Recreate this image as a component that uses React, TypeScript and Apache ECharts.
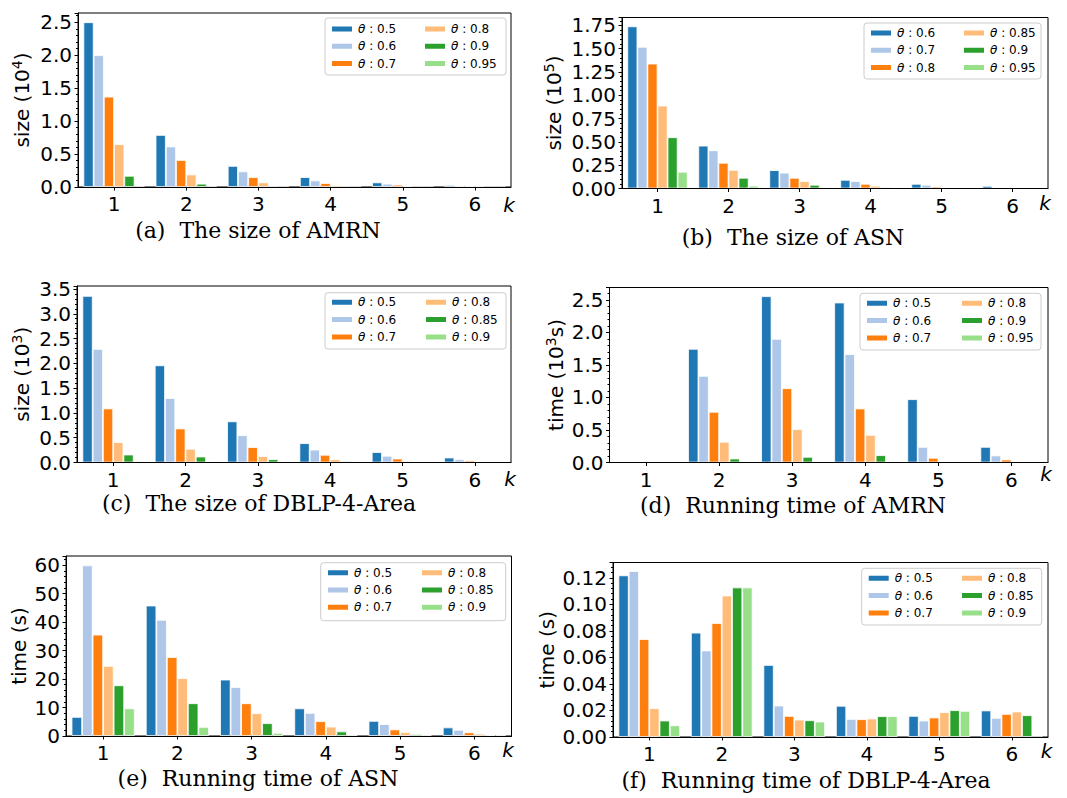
import React, { useEffect, useRef } from 'react';
import * as echarts from 'echarts';

// ---------- data ----------
const categories = ['1', '2', '3', '4', '5', '6'];
const colors = ['#1f77b4', '#aec7e8', '#ff7f0e', '#ffbb78', '#2ca02c', '#98df8a'];

// (a) size of AMRN (10^4)
const thetasA = ['0.5', '0.6', '0.7', '0.8', '0.9', '0.95'];
const sizeAMRN = [
  [2.5, 0.79, 0.32, 0.15, 0.07, 0.03],
  [2.0, 0.615, 0.237, 0.1, 0.05, 0.02],
  [1.37, 0.41, 0.15, 0.06, 0.035, 0.015],
  [0.65, 0.19, 0.07, 0.03, 0.015, 0.01],
  [0.17, 0.05, 0.02, 0.005, 0.002, 0.001],
  [0.004, 0.005, 0.002, 0.001, 0.0005, 0.0003],
];

// (b) size of ASN (10^5)
const thetasB = ['0.6', '0.7', '0.8', '0.85', '0.9', '0.95'];
const sizeASN = [
  [1.74, 0.46, 0.197, 0.093, 0.05, 0.028],
  [1.52, 0.41, 0.17, 0.08, 0.04, 0.015],
  [1.34, 0.276, 0.115, 0.05, 0.02, 0.005],
  [0.89, 0.2, 0.08, 0.03, 0.01, 0.002],
  [0.55, 0.115, 0.04, 0.015, 0.004, 0.001],
  [0.18, 0.03, 0.005, 0.002, 0.001, 0],
];

// (c) size of DBLP-4-Area (10^3)
const thetasC = ['0.5', '0.6', '0.7', '0.8', '0.85', '0.9'];
const sizeDBLP = [
  [3.36, 1.96, 0.83, 0.39, 0.21, 0.1],
  [2.29, 1.3, 0.55, 0.26, 0.135, 0.067],
  [1.09, 0.686, 0.31, 0.155, 0.08, 0.04],
  [0.41, 0.276, 0.13, 0.067, 0.027, 0.013],
  [0.16, 0.12, 0.067, 0.027, 0.005, 0.002],
  [0.03, 0.02, 0.015, 0.005, 0.002, 0.001],
];

// (d) running time of AMRN (10^3 s)
const thetasD = ['0.5', '0.6', '0.7', '0.8', '0.9', '0.95'];
const timeAMRN = [
  [0, 1.747, 2.556, 2.459, 0.973, 0.24],
  [0, 1.332, 1.9, 1.665, 0.24, 0.108],
  [0, 0.779, 1.142, 0.83, 0.072, 0.046],
  [0, 0.318, 0.512, 0.425, 0.015, 0.01],
  [0, 0.061, 0.087, 0.113, 0.002, 0.001],
  [0, 0, 0, 0, 0, 0],
];

// (e) running time of ASN (s)
const thetasE = ['0.5', '0.6', '0.7', '0.8', '0.85', '0.9'];
const timeASN = [
  [6.7, 45.8, 19.8, 9.7, 5.3, 3.0],
  [59.9, 40.8, 17.2, 8.1, 4.2, 2.2],
  [35.6, 27.7, 11.5, 5.2, 2.3, 1.3],
  [24.6, 20.3, 8.0, 3.3, 1.4, 0.8],
  [17.8, 11.5, 4.5, 1.6, 0.7, 0.35],
  [9.7, 3.2, 1.1, 0.5, 0.2, 0.2],
];

// (f) running time of DBLP-4-Area (s)
const thetasF = ['0.5', '0.6', '0.7', '0.8', '0.85', '0.9'];
const timeDBLP = [
  [0.1218, 0.0786, 0.0543, 0.0235, 0.0159, 0.02],
  [0.125, 0.0652, 0.0237, 0.0136, 0.0124, 0.0144],
  [0.0738, 0.0859, 0.0159, 0.0134, 0.0147, 0.0174],
  [0.0217, 0.1066, 0.0131, 0.0139, 0.0187, 0.0192],
  [0.0124, 0.1127, 0.0126, 0.0157, 0.0202, 0.0164],
  [0.0088, 0.1127, 0.0116, 0.0157, 0.0197, 0],
];

const yNames = [
  'size (10{sup|4})',
  'size (10{sup|5})',
  'size (10{sup|3})',
  'time (10{sup|3}s)',
  'time (s)',
  'time (s)',
];
const titles = [
  '(a)  The size of AMRN',
  '(b)  The size of ASN',
  '(c)  The size of DBLP-4-Area',
  '(d)  Running time of AMRN',
  '(e)  Running time of ASN',
  '(f)  Running time of DBLP-4-Area',
];

// ---------- layout ----------
const panels = [
  { id: 'a', thetas: thetasA, values: sizeAMRN, grid: [78, 13, 433, 174], ymax: 2.64, interval: 0.5, dec: 1, nameGap: 44,
    leg: [330, 423, 22], box: [325, 18, 181, 57], title: [258, 230], k: [509, 205] },
  { id: 'b', thetas: thetasB, values: sizeASN, grid: [622, 17.5, 426, 171], ymax: 1.835, interval: 0.25, dec: 2, nameGap: 56,
    leg: [869, 962, 26], box: [864, 23, 177, 56], title: [793, 237], k: [1045, 203] },
  { id: 'c', thetas: thetasC, values: sizeDBLP, grid: [77, 286, 434, 176.5], ymax: 3.56, interval: 0.5, dec: 1, nameGap: 43,
    leg: [330, 424, 295.3], box: [325, 292.7, 181, 56.3], title: [259, 503], k: [510, 479] },
  { id: 'd', thetas: thetasD, values: timeAMRN, grid: [609.5, 287.5, 438.5, 175], ymax: 2.69, interval: 0.5, dec: 1, nameGap: 41.5,
    leg: [865, 960, 296.3], box: [860, 293.3, 181, 56.7], title: [793, 505], k: [1046, 474] },
  { id: 'e', thetas: thetasE, values: timeASN, grid: [66, 556, 445.5, 180], ymax: 63.2, interval: 10, dec: 0, nameGap: 34,
    leg: [326, 420, 565.7], box: [320.7, 562.7, 185, 58], title: [258, 778], k: [508, 750] },
  { id: 'f', thetas: thetasF, values: timeDBLP, grid: [613, 562.5, 435, 174.5], ymax: 0.1315, interval: 0.02, dec: 2, nameGap: 52,
    leg: [866.7, 960, 571.3], box: [861.7, 568.3, 180, 56.7], title: [806, 780], k: [1046.5, 751] },
];

const FONT = 'DejaVu Sans';
const TICK_FS = 20;

function buildOption() {
  const grid: any[] = [];
  const xAxis: any[] = [];
  const yAxis: any[] = [];
  const series: any[] = [];
  const legend: any[] = [];
  const graphic: any[] = [];

  panels.forEach((p, i) => {
    grid.push({
      left: p.grid[0], top: p.grid[1], width: p.grid[2], height: p.grid[3],
      show: true, borderColor: '#000', borderWidth: 1, backgroundColor: 'transparent',
    });
    xAxis.push({
      type: 'category', gridIndex: i, data: categories, boundaryGap: true, z: 5,
      axisLine: { show: true, lineStyle: { color: '#000', width: 1 } },
      axisTick: { show: true, alignWithLabel: true, length: 3.5, lineStyle: { color: '#000' } },
      axisLabel: { fontSize: TICK_FS, fontFamily: FONT, color: '#000', margin: 7 },
      splitLine: { show: false },
    });
    yAxis.push({
      type: 'value', gridIndex: i, min: 0, max: p.ymax, interval: p.interval, z: 5,
      axisLine: { show: true, lineStyle: { color: '#000', width: 1 } },
      axisTick: { show: true, length: 3.5, lineStyle: { color: '#000' } },
      minorTick: { show: true, splitNumber: 5, length: 2, lineStyle: { color: '#000' } },
      splitLine: { show: false },
      minorSplitLine: { show: false },
      axisLabel: {
        showMaxLabel: false, fontSize: TICK_FS, fontFamily: FONT, color: '#000', margin: 6,
        formatter: (v: number) => v.toFixed(p.dec),
      },
      name: yNames[i], nameLocation: 'middle', nameGap: p.nameGap,
      nameTextStyle: {
        fontSize: 20, fontFamily: FONT, color: '#000', lineHeight: 24,
        rich: { sup: { fontSize: 14, fontFamily: FONT, color: '#000', lineHeight: 14, verticalAlign: 'top' } },
      },
    });
    const names: string[] = [];
    p.thetas.forEach((t, j) => {
      const name = p.id + '#' + t;
      names.push(name);
      series.push({
        type: 'bar', name, xAxisIndex: i, yAxisIndex: i, data: p.values[j],
        barGap: '0%', barCategoryGap: '15%',
        itemStyle: { color: colors[j], borderColor: '#fff', borderWidth: 0.8 },
        emphasis: { disabled: true },
      });
    });
    const legBase = {
      orient: 'vertical', top: p.leg[2], itemWidth: 22, itemHeight: 7, itemGap: 3.3, itemTextGap: 10,
      padding: 0, icon: 'rect', selectedMode: false, z: 6,
      formatter: (name: string) => '{th|θ} : ' + name.split('#')[1],
      textStyle: {
        fontSize: 12, fontFamily: FONT, color: '#000', lineHeight: 14,
        rich: { th: { fontStyle: 'italic', fontSize: 12, fontFamily: FONT, color: '#000', lineHeight: 14 } },
      },
    };
    legend.push({ ...legBase, left: p.leg[0], data: names.slice(0, 3) });
    legend.push({ ...legBase, left: p.leg[1], data: names.slice(3, 6) });

    graphic.push({
      type: 'rect', z: 3,
      shape: { x: p.box[0], y: p.box[1], width: p.box[2], height: p.box[3], r: 3 },
      style: { fill: 'rgba(255,255,255,0.8)', stroke: '#cccccc', lineWidth: 1 },
    });
    graphic.push({
      type: 'text', x: p.title[0], y: p.title[1], z: 3,
      style: { text: titles[i], fontSize: 22, fontFamily: 'DejaVu Serif', fill: '#000', align: 'center', verticalAlign: 'middle' },
    });
    graphic.push({
      type: 'text', x: p.k[0], y: p.k[1], z: 3,
      style: { text: 'k', fontSize: 20, fontStyle: 'italic', fontFamily: FONT, fill: '#000', align: 'center', verticalAlign: 'middle' },
    });
  });

  return {
    animation: false,
    backgroundColor: '#fff',
    grid, xAxis, yAxis, series, legend, graphic,
  };
}

export default function App() {
  const ref = useRef<HTMLDivElement>(null);
  useEffect(() => {
    if (!ref.current) return;
    const chart = echarts.init(ref.current, undefined, { renderer: 'svg' });
    chart.setOption(buildOption() as any);
    return () => chart.dispose();
  }, []);
  return (
    <div
      ref={ref}
      style={{ position: 'absolute', left: 0, top: 0, width: 1067, height: 798, background: '#fff' }}
    />
  );
}
